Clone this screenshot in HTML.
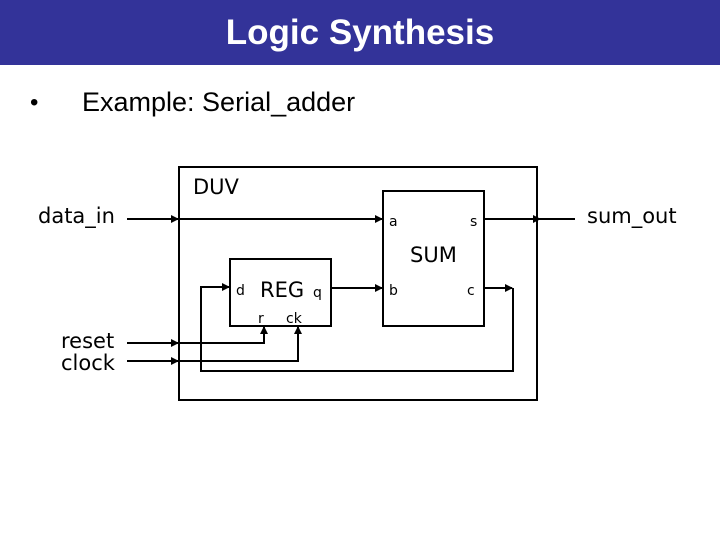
<!DOCTYPE html><html><head><style>
body{margin:0;width:720px;height:540px;background:#fff;overflow:hidden;position:relative;font-family:"Liberation Sans",sans-serif}
.hdr{position:absolute;left:0;top:0;width:720px;height:65px;background:#333399}
.t{position:absolute;white-space:nowrap}
</style></head><body>
<div class="hdr"></div>
<div class="t" style="left:0;width:720px;text-align:center;top:13px;font-size:35px;font-weight:bold;color:#fff;line-height:40px">Logic Synthesis</div>
<div class="t" style="left:30px;top:88px;font-size:24px;line-height:30px">•</div>
<div class="t" style="left:82px;top:86px;font-size:27px;line-height:32px">Example: Serial_adder</div>
<svg width="720" height="540" style="position:absolute;left:0;top:0" font-family="DejaVu Sans, sans-serif">
<defs><marker id="a" markerWidth="8" markerHeight="8" refX="7" refY="4" orient="auto" markerUnits="userSpaceOnUse"><path d="M0,0 L8,4 L0,8z" fill="#000"/></marker></defs>
<g stroke="#000" stroke-width="2" fill="none">
<rect x="179" y="167" width="358" height="233"/>
<rect x="383" y="191" width="101" height="135"/>
<rect x="230" y="259" width="101" height="67"/>
<line x1="127" y1="219" x2="178" y2="219" marker-end="url(#a)"/>
<line x1="179" y1="219" x2="382" y2="219" marker-end="url(#a)"/>
<line x1="484" y1="219" x2="540" y2="219" marker-end="url(#a)"/>
<line x1="540" y1="219" x2="575" y2="219"/>
<line x1="331" y1="288" x2="382" y2="288" marker-end="url(#a)"/>
<line x1="127" y1="343" x2="178" y2="343" marker-end="url(#a)"/>
<polyline points="179,343 264,343 264,327" marker-end="url(#a)"/>
<line x1="127" y1="361" x2="178" y2="361" marker-end="url(#a)"/>
<polyline points="179,361 298,361 298,327" marker-end="url(#a)"/>
<line x1="484" y1="288" x2="512" y2="288" marker-end="url(#a)"/>
<polyline points="513,288 513,371 201,371 201,287 229,287" marker-end="url(#a)"/>
</g>
<g font-size="21" fill="#000">
<text x="193" y="194">DUV</text>
<text x="38" y="223">data_in</text>
<text x="587" y="223">sum_out</text>
<text x="61" y="348">reset</text>
<text x="61" y="370">clock</text>
<text x="410" y="262">SUM</text>
<text x="260" y="297">REG</text>
</g>
<g font-size="14" fill="#000">
<text x="389" y="226">a</text>
<text x="470" y="226">s</text>
<text x="389" y="295">b</text>
<text x="467" y="295">c</text>
<text x="236" y="295">d</text>
<text x="313" y="297">q</text>
<text x="258" y="323">r</text>
<text x="286" y="323">ck</text>
</g>
</svg>
</body></html>
